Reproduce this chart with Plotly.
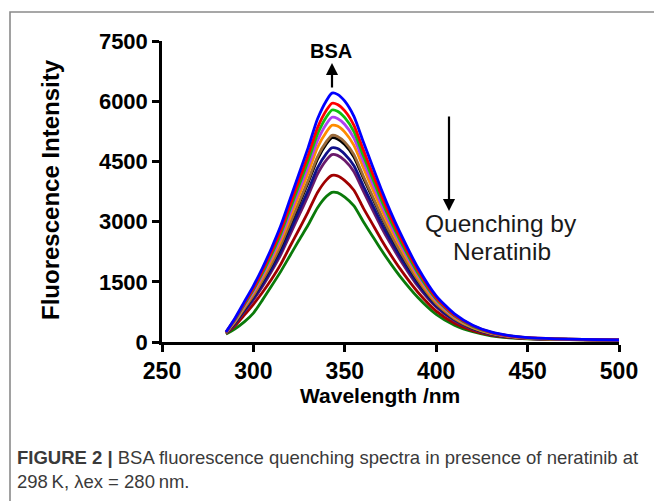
import plotly.graph_objects as go

# ---------------- data ----------------
wavelength = [285, 290, 295, 300, 305, 310, 315, 320, 325, 330, 335, 340, 343, 346, 350,
              355, 360, 365, 370, 375, 380, 390, 400, 410, 420, 430, 440, 450, 465, 480, 500]

bsa_blue = [250, 600, 1000, 1400, 1850, 2350, 2900, 3550, 4200, 4850, 5550, 6020, 6200, 6170, 6000,
            5620, 5000, 4400, 3800, 3250, 2750, 1850, 1150, 700, 420, 250, 160, 110, 80, 65, 50]
q_red = [245, 580, 960, 1340, 1780, 2260, 2780, 3410, 4030, 4660, 5330, 5780, 5950, 5920, 5760,
         5400, 4800, 4220, 3650, 3120, 2640, 1780, 1100, 670, 405, 242, 155, 107, 78, 64, 50]
q_green = [240, 560, 930, 1300, 1720, 2190, 2700, 3310, 3910, 4520, 5170, 5610, 5780, 5750, 5590,
           5240, 4660, 4100, 3540, 3030, 2560, 1720, 1070, 650, 390, 235, 150, 105, 77, 63, 49]
q_violet = [235, 540, 900, 1260, 1670, 2120, 2620, 3210, 3790, 4380, 5010, 5440, 5600, 5570, 5420,
            5080, 4520, 3970, 3430, 2930, 2480, 1670, 1040, 630, 380, 228, 146, 102, 76, 62, 48]
q_orange = [230, 525, 870, 1220, 1610, 2050, 2530, 3090, 3660, 4220, 4840, 5240, 5400, 5380, 5230,
            4900, 4360, 3830, 3310, 2830, 2400, 1610, 1000, 610, 365, 220, 142, 100, 75, 61, 48]
q_brown = [225, 500, 830, 1160, 1540, 1950, 2410, 2950, 3490, 4030, 4610, 5000, 5150, 5120, 4980,
           4670, 4150, 3650, 3150, 2700, 2280, 1540, 955, 580, 350, 210, 136, 96, 73, 60, 47]
q_black = [225, 495, 820, 1150, 1520, 1930, 2380, 2910, 3440, 3980, 4550, 4940, 5090, 5060, 4920,
           4610, 4100, 3610, 3120, 2670, 2260, 1520, 945, 575, 345, 207, 134, 95, 72, 59, 46]
q_navy = [220, 470, 780, 1090, 1440, 1830, 2260, 2770, 3280, 3780, 4330, 4700, 4840, 4820, 4680,
          4390, 3900, 3430, 2960, 2540, 2150, 1440, 900, 550, 330, 198, 128, 92, 70, 58, 46]
q_purple = [215, 455, 755, 1050, 1390, 1770, 2180, 2670, 3160, 3650, 4180, 4540, 4670, 4650, 4520,
            4240, 3770, 3310, 2860, 2450, 2070, 1390, 870, 530, 320, 192, 125, 90, 69, 57, 45]
q_darkred = [210, 410, 670, 940, 1240, 1570, 1940, 2380, 2810, 3250, 3720, 4040, 4150, 4140, 4020,
             3780, 3350, 2950, 2550, 2180, 1840, 1240, 770, 470, 285, 172, 114, 84, 65, 55, 44]
q_darkgreen = [200, 330, 500, 720, 1050, 1400, 1760, 2150, 2540, 2920, 3340, 3630, 3730, 3720, 3610,
               3390, 3010, 2650, 2290, 1960, 1650, 1110, 690, 420, 255, 155, 104, 78, 62, 53, 42]

series = [q_darkgreen, q_darkred, q_purple, q_navy, q_black, q_brown,
          q_orange, q_violet, q_green, q_red, bsa_blue]
colors = ["#0a7a0a", "#a00000", "#6a1a6a", "#10108a", "#000000", "#9a6a3a",
          "#ff8c00", "#b040f0", "#10c010", "#ff0000", "#0000ff"]

x_ticks = [250, 300, 350, 400, 450, 500]
y_ticks = [0, 1500, 3000, 4500, 6000, 7500]

# ---------------- layout helpers ----------------
W, H = 654, 501
L, R, T, B = 162, 619, 41, 342   # plot area in pixels


def px(xp):
    return (xp - L) / (R - L)


def py(yp):
    return (B - yp) / (B - T)


def dx(xp):
    return 250 + (xp - L) / (R - L) * 250


def dy(yp):
    return (B - yp) / (B - T) * 7500


fig = go.Figure()
for s, c in zip(series, colors):
    fig.add_trace(go.Scatter(x=wavelength, y=s, mode="lines",
                             line=dict(color=c, width=2.8, shape="spline", smoothing=0.6),
                             showlegend=False, hoverinfo="skip"))

font_ax = "Liberation Sans, Arial, sans-serif"

fig.update_layout(
    width=W, height=H,
    margin=dict(l=L, r=W - R, t=T, b=H - B, pad=0),
    paper_bgcolor="white", plot_bgcolor="white",
    xaxis=dict(range=[250, 500], tickvals=x_ticks, ticks="outside", ticklen=7,
               tickwidth=2.5, tickcolor="black", showline=True, linewidth=2.5,
               linecolor="black", showgrid=False, zeroline=False,
               tickfont=dict(family=font_ax, size=23, color="black", weight="bold")),
    yaxis=dict(range=[0, 7500], tickvals=y_ticks, ticks="outside", ticklen=7,
               tickwidth=2.5, tickcolor="black", showline=True, linewidth=2.5,
               linecolor="black", showgrid=False, zeroline=False,
               tickfont=dict(family=font_ax, size=22, color="black", weight="bold")),
)

# outer frame
fig.add_shape(type="rect", xref="paper", yref="paper",
              x0=px(10), x1=px(658), y0=py(505), y1=py(12),
              line=dict(color="#8a8a8a", width=1.6), fillcolor="rgba(0,0,0,0)")

ann = []
# axis titles
ann.append(dict(xref="paper", yref="paper", x=px(380), y=py(395), text="<b>Wavelength /nm</b>",
                showarrow=False, font=dict(family=font_ax, size=21, color="black"),
                xanchor="center", yanchor="middle"))
ann.append(dict(xref="paper", yref="paper", x=px(50), y=py(190), text="<b>Fluorescence Intensity</b>",
                showarrow=False, textangle=-90, font=dict(family=font_ax, size=24, color="black"),
                xanchor="center", yanchor="middle"))
# BSA label and arrow
ann.append(dict(xref="x", yref="y", x=dx(331), y=dy(51), text="<b>BSA</b>", showarrow=False,
                font=dict(family=font_ax, size=20, color="black"), xanchor="center", yanchor="middle"))
ann.append(dict(xref="x", yref="y", x=dx(332), y=dy(63), ax=0, ay=26, text="", showarrow=True,
                arrowhead=2, arrowsize=1.1, arrowwidth=2.2, arrowcolor="black"))
# quenching arrow and text
ann.append(dict(xref="x", yref="y", x=dx(449), y=dy(211), ax=0, ay=-96, text="", showarrow=True,
                arrowhead=2, arrowsize=1.1, arrowwidth=2.2, arrowcolor="black"))
ann.append(dict(xref="x", yref="y", x=dx(501), y=dy(223), text="Quenching by", showarrow=False,
                font=dict(family=font_ax, size=24.5, color="#1a1a1a"), xanchor="center", yanchor="middle"))
ann.append(dict(xref="x", yref="y", x=dx(502), y=dy(251), text="Neratinib", showarrow=False,
                font=dict(family=font_ax, size=24.5, color="#1a1a1a"), xanchor="center", yanchor="middle"))
# caption
cap_font = dict(family="Liberation Sans, Arial, sans-serif", size=18.5, color="#3a3a3a")
ann.append(dict(xref="paper", yref="paper", x=px(15), y=py(457),
                text="<b>FIGURE 2 |</b> BSA fluorescence quenching spectra in presence of neratinib at",
                showarrow=False, font=cap_font, xanchor="left", yanchor="middle"))
ann.append(dict(xref="paper", yref="paper", x=px(15), y=py(481),
                text="298\u2009K, \u03bbex = 280\u2009nm.",
                showarrow=False, font=cap_font, xanchor="left", yanchor="middle"))

fig.update_layout(annotations=ann)
fig.write_html("out.html")
